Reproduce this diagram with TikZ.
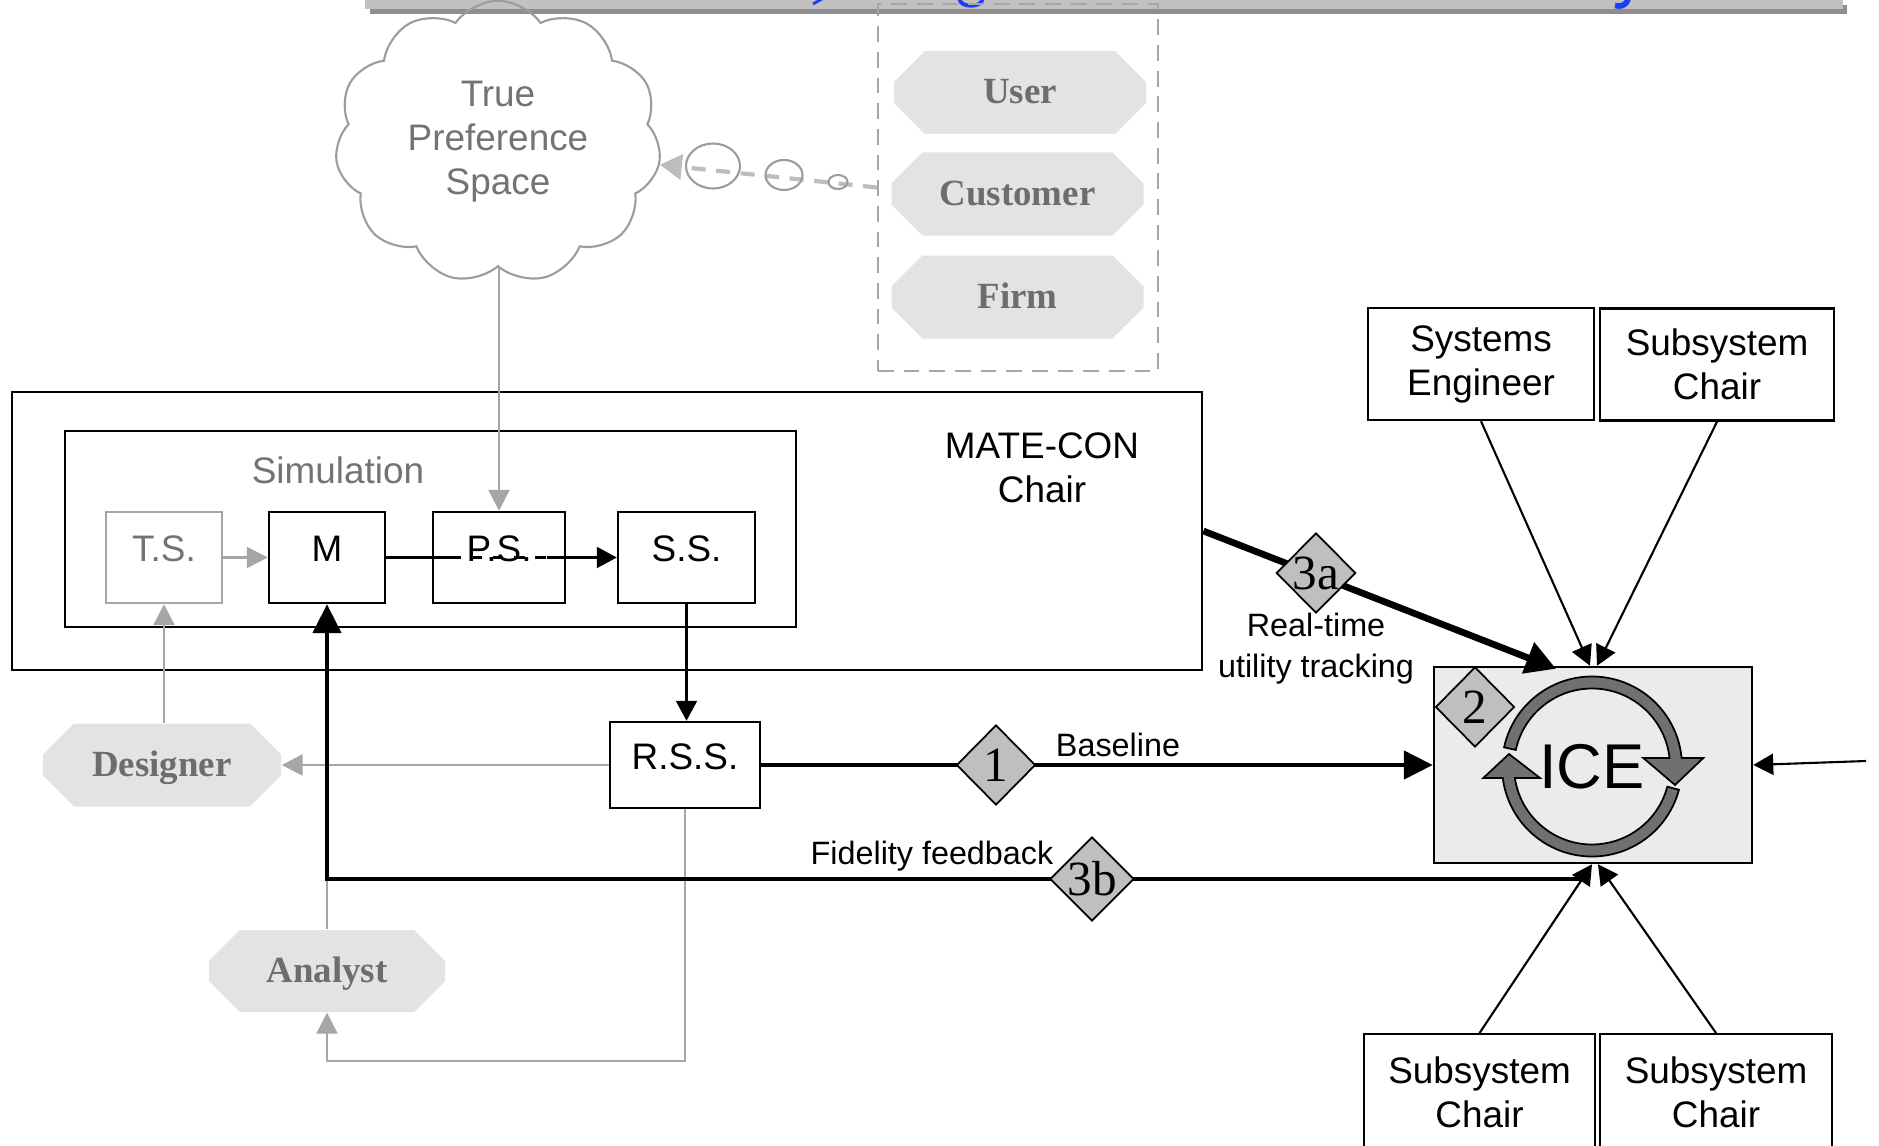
\documentclass[tikz,border=0pt]{standalone}
\usepackage{fontspec}
\setmainfont{Liberation Sans}
\newfontfamily\timesfont{Liberation Serif}
\usetikzlibrary{shapes.geometric,shapes.misc,shapes.symbols,arrows.meta,calc}

\definecolor{barfill}{HTML}{C0C1C0}
\definecolor{barshadow}{HTML}{8E8E8E}
\definecolor{titleblue}{HTML}{1F3DF5}
\definecolor{linegray}{HTML}{A6A6A6}
\definecolor{textgray}{HTML}{737373}
\definecolor{cloudgray}{HTML}{9C9C9C}
\definecolor{wishgray}{HTML}{BDBDBD}
\definecolor{rolefill}{HTML}{E3E3E3}
\definecolor{roletext}{HTML}{6D6D6D}
\definecolor{markfill}{HTML}{BFBFBF}
\definecolor{icefill}{HTML}{EBEBEB}
\definecolor{ringfill}{HTML}{707070}

\begin{document}
\begin{tikzpicture}[font=\fontsize{10.5}{12.5}\selectfont]
        \tikzstyle{box}=[draw, line width=0.7pt, inner sep=0pt, align=center]
        \tikzstyle{smallbox}=[box, minimum height=0.91cm, text height=0.265cm, text depth=0.18cm]
        \tikzstyle{person}=[box, minimum height=1.12cm]
        \tikzstyle{role}=[chamfered rectangle, chamfered rectangle xsep=0.23cm, fill=rolefill, text=roletext,
                          minimum width=2.52cm, minimum height=0.83cm, inner sep=0pt,
                          text height=0.3cm, text depth=0.07cm,
                          font=\timesfont\bfseries\fontsize{10.5}{12.5}\selectfont]
        \tikzstyle{marker}=[diamond, draw, fill=markfill, line width=0.5pt, inner sep=0pt,
                            minimum width=0.79cm, minimum height=0.80cm, font=\timesfont\fontsize{14}{14}\selectfont]
        \tikzstyle{bubble}=[ellipse, draw=cloudgray, line width=0.6pt, inner sep=0pt]
        \tikzstyle{note}=[font=\fontsize{9.2}{11.6}\selectfont, align=center]
        \tikzstyle{feed}=[draw=linegray, line width=0.7pt, -{Triangle[length=0.21cm,width=0.21cm]}]
        \tikzstyle{thinarrow}=[line width=0.6pt, -{Triangle[length=0.2cm,width=0.21cm]}]
        \tikzstyle{flow}=[line width=1.35pt, -{Triangle[length=0.29cm,width=0.28cm]}]
        \tikzstyle{track}=[line width=1.9pt, -{Triangle[length=0.3cm,width=0.32cm]}]
        \tikzstyle{ring}=[fill=ringfill, draw=black, line width=0.5pt]

        \useasboundingbox (0,0) rectangle (18.79,11.45);
        \clip (0,0) rectangle (18.79,11.45);

        % title bar
        \fill[barshadow] (3.70,11.31) rectangle (18.47,11.40);
        \fill[barfill] (3.65,11.355) rectangle (18.43,11.46);
        \draw[titleblue, line width=0.8pt] (8.13,11.41) -- (8.22,11.46);
        \draw[titleblue, line width=1.1pt] (9.595,11.46) .. controls (9.60,11.37) and (9.82,11.37) .. (9.825,11.46);
        \draw[titleblue, line width=1.6pt] (16.28,11.46) .. controls (16.26,11.39) and (16.20,11.38) .. (16.15,11.395);

        % stakeholders
        \node[box, draw=linegray, line width=0.6pt, dash pattern=on 4.5pt off 2.8pt,
              minimum width=2.80cm, minimum height=3.67cm] (users) at (10.18,9.575) {};
        \node[role] (user) at (10.20,10.525) {User};
        \node[role] (customer) at (10.175,9.51) {Customer};
        \node[role] (firm) at (10.175,8.48) {Firm};

        \node[cloud, cloud puffs=11, cloud puff arc=110, draw=cloudgray, line width=0.6pt,
              minimum width=3.26cm, minimum height=2.56cm, inner sep=0pt, text=textgray,
              align=center] (tps) at (4.98,10.03) {True\\Preference\\Space};

        \draw[draw=wishgray, line width=1.2pt, dash pattern=on 4pt off 3pt,
              -{Triangle[length=0.22cm,width=0.25cm]}] (users.west) -- (tps.-8);
        \node[bubble, minimum width=0.19cm, minimum height=0.14cm] (b1) at (8.38,9.63) {};
        \node[bubble, minimum width=0.37cm, minimum height=0.30cm] (b2) at (7.84,9.70) {};
        \node[bubble, minimum width=0.54cm, minimum height=0.45cm] (b3) at (7.13,9.79) {};

        % MATE-CON and simulation
        \node[box, line width=0.8pt, minimum width=11.90cm, minimum height=2.78cm] (matecon) at (6.07,6.14) {};
        \node[align=center] (chair) at (10.42,6.77) {MATE-CON\\Chair};
        \node[box, minimum width=7.31cm, minimum height=1.96cm] (sim) at (4.305,6.16) {};
        \node[text=textgray] (simlabel) at (3.38,6.75) {Simulation};

        \node[smallbox, draw=linegray, text=textgray, minimum width=1.16cm] (ts) at (1.64,5.875) {T.S.};
        \node[smallbox, minimum width=1.16cm] (m) at (3.27,5.875) {M};
        \node[smallbox, minimum width=1.32cm] (ps) at (4.99,5.875) {P.S.};
        \node[smallbox, minimum width=1.37cm] (ss) at (6.865,5.875) {S.S.};
        \node[smallbox, minimum width=1.50cm, minimum height=0.86cm] (rss) at (6.85,3.80) {R.S.S.};

        \node[role, minimum width=2.38cm] (designer) at (1.62,3.80) {Designer};
        \node[role, minimum width=2.36cm, minimum height=0.82cm] (analyst) at (3.27,1.74) {Analyst};

        % ICE session
        \node[draw, line width=0.7pt, fill=icefill, minimum width=3.18cm, minimum height=1.96cm] (ice) at (15.93,3.80) {};
        \node[person, minimum width=2.26cm] (syseng) at (14.81,7.81) {Systems\\Engineer};
        \node[person, minimum width=2.34cm] (subtop) at (17.17,7.805) {Subsystem\\Chair};
        \node[person, minimum width=2.31cm, minimum height=1.17cm, anchor=north] (subleft) at (14.795,1.12) {Subsystem\\Chair};
        \node[person, minimum width=2.32cm, minimum height=1.17cm, anchor=north] (subright) at (17.16,1.12) {Subsystem\\Chair};

        \coordinate (c) at (15.92,3.785);
        \draw[ring] ($(c)+(167.7:0.90)$) arc[start angle=167.7, end angle=5.4, radius=0.90]
              -- ($(c)+(1.113,0.085)$) -- ($(c)+(0.83,-0.185)$) -- ($(c)+(0.513,0.085)$)
              -- ($(c)+(6.25:0.78)$) arc[start angle=6.25, end angle=167.7, radius=0.78] -- cycle;
        \draw[ring] ($(c)+(-15:0.90)$) arc[start angle=-15, end angle=-172.7, radius=0.90]
              -- ($(c)+(-1.087,-0.115)$) -- ($(c)+(-0.83,0.125)$) -- ($(c)+(-0.52,-0.115)$)
              -- ($(c)+(-171.5:0.78)$) arc[start angle=-171.5, end angle=-15, radius=0.78] -- cycle;
        \node[font=\fontsize{18}{20}\selectfont, inner sep=0pt] (icetext) at (c) {ICE};

        % connections
        \draw[feed] (ps.north |- tps.south) -- (ps.north);
        \draw[feed] (ts.east) -- (m.west);
        \draw[line width=0.7pt] (m.east) -- ([xshift=0.19cm]ps.west);
        \draw[line width=0.7pt, dashed] ([xshift=0.19cm]ps.west) -- ([xshift=-0.19cm]ps.east);
        \draw[thinarrow] ([xshift=-0.19cm]ps.east) -- (ss.west);
        \draw[thinarrow] (ss.south) -- (ss.south |- rss.north);
        \draw[feed] (rss.west) -- (designer.east);
        \draw[feed] (ts.south |- designer.north) -- (ts.south);
        \draw[feed] (rss.south) -- ++(0,-2.52) -| (analyst.south);

        \coordinate (fb) at (15.90,2.66);
        \draw[feed, -] (analyst.north) -- (analyst.north |- fb);
        \draw[flow] (fb) -| (m.south);
        \draw[flow] (rss.east) -- (ice.west);
        \draw[track] (matecon.east) -- ([xshift=-0.37cm,yshift=-0.03cm]ice.north);

        \draw[thinarrow] (syseng.south) -- ([xshift=-0.03cm]ice.north);
        \draw[thinarrow] (subtop.south) -- ([xshift=0.04cm]ice.north);
        \draw[thinarrow] (subleft.north) -- ([xshift=-0.01cm]ice.south);
        \draw[thinarrow] (subright.north) -- ([xshift=0.05cm]ice.south);
        \coordinate (rin) at (18.66,3.84);
        \draw[thinarrow] (rin) -- (ice.east);

        % steps
        \node[marker] (d1) at (9.96,3.80) {1};
        \node[marker] (d2) at (14.75,4.38) {2};
        \node[marker] (d3a) at (13.16,5.72) {3a};
        \node[marker] (d3b) at (10.92,2.66) {3b};

        \node[note] (baseline) at (11.18,4.00) {Baseline};
        \node[note] (fidelity) at (9.32,2.89) {Fidelity feedback};
        \node[note] (tracking) at (13.16,4.96) {Real-time\\utility tracking};
\end{tikzpicture}
\end{document}
